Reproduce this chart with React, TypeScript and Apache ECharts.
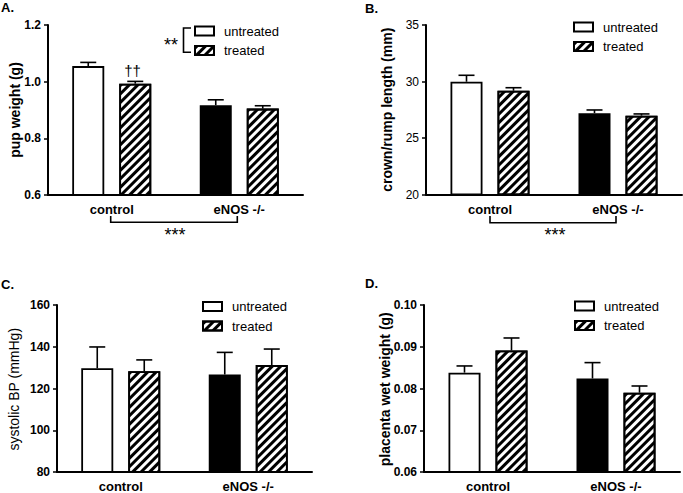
import React, { useEffect, useRef } from "react";
import * as echarts from "echarts";

// ---------- data ----------
const groups = ["control", "eNOS -/-"];
const seriesNames = ["untreated", "treated"];

// A. pup weight (g)
const pupUntreated = [1.055, 0.917];
const pupUntreatedErr = [0.013, 0.019];
const pupTreated = [0.993, 0.905];
const pupTreatedErr = [0.008, 0.01];
const pupTicks = { min: 0.6, max: 1.2, interval: 0.2 };

// B. crown/rump length (mm)
const crlUntreated = [29.98, 27.2];
const crlUntreatedErr = [0.57, 0.28];
const crlTreated = [29.18, 26.98];
const crlTreatedErr = [0.27, 0.15];
const crlTicks = { min: 20, max: 35, interval: 5 };

// C. systolic BP (mmHg)
const bpUntreated = [129.7, 126.7];
const bpUntreatedErr = [10.2, 10.6];
const bpTreated = [128.3, 131.2];
const bpTreatedErr = [5.4, 7.7];
const bpTicks = { min: 80, max: 160, interval: 20 };

// D. placenta wet weight (g)
const plUntreated = [0.0838, 0.0824];
const plUntreatedErr = [0.0016, 0.0038];
const plTreated = [0.0891, 0.079];
const plTreatedErr = [0.003, 0.0016];
const plTicks = { min: 0.06, max: 0.1, interval: 0.01 };

const FONT = "Liberation Sans, Arial, Helvetica, sans-serif";

type Panel = {
  letter: string;
  title: string;
  titleBold: boolean;
  untreated: number[];
  untreatedErr: number[];
  treated: number[];
  treatedErr: number[];
  ticks: { min: number; max: number; interval: number };
  decimals: number;
  labelBold: boolean;
  grid: { left: number; top: number; width: number; height: number };
  titleX: number;
  letterPos: [number, number];
  legendPos: [number, number];
};

const panels: Panel[] = [
  {
    letter: "A.", title: "pup weight (g)", titleBold: true,
    untreated: pupUntreated, untreatedErr: pupUntreatedErr,
    treated: pupTreated, treatedErr: pupTreatedErr,
    ticks: pupTicks, decimals: 1, labelBold: true,
    grid: { left: 48, top: 25, width: 255, height: 170 },
    titleX: 15, letterPos: [1, 8], legendPos: [194, 24.5],
  },
  {
    letter: "B.", title: "crown/rump length (mm)", titleBold: true,
    untreated: crlUntreated, untreatedErr: crlUntreatedErr,
    treated: crlTreated, treatedErr: crlTreatedErr,
    ticks: crlTicks, decimals: 0, labelBold: false,
    grid: { left: 426, top: 25, width: 256, height: 169.5 },
    titleX: 387, letterPos: [365, 9], legendPos: [573, 20.5],
  },
  {
    letter: "C.", title: "systolic BP (mmHg)", titleBold: false,
    untreated: bpUntreated, untreatedErr: bpUntreatedErr,
    treated: bpTreated, treatedErr: bpTreatedErr,
    ticks: bpTicks, decimals: 0, labelBold: true,
    grid: { left: 57, top: 305, width: 255, height: 168.5 },
    titleX: 13.5, letterPos: [1, 284.5], legendPos: [202, 300],
  },
  {
    letter: "D.", title: "placenta wet weight (g)", titleBold: true,
    untreated: plUntreated, untreatedErr: plUntreatedErr,
    treated: plTreated, treatedErr: plTreatedErr,
    ticks: plTicks, decimals: 2, labelBold: true,
    grid: { left: 424, top: 305, width: 256, height: 168.5 },
    titleX: 385, letterPos: [365, 283.5], legendPos: [574, 299.5],
  },
];

const hatch = {
  symbol: "rect",
  symbolSize: 1,
  color: "#000",
  dashArrayX: [1, 0],
  dashArrayY: [2.2, 3.0],
  rotation: -Math.PI / 4,
};

const BAR_W = 32;
const BAR_GAP = 15;
const OFFSET = (BAR_W + BAR_GAP) / 2;

function errRender(offset: number) {
  return (params: any, api: any) => {
    const cat = api.value(0);
    const val = api.value(1);
    const err = api.value(2);
    const p0 = api.coord([cat, val]);
    const p1 = api.coord([cat, val + err]);
    const x = p0[0] + offset;
    const st = { stroke: "#000", lineWidth: 1.6 };
    return {
      type: "group",
      children: [
        { type: "line", shape: { x1: x, y1: p0[1], x2: x, y2: p1[1] }, style: st },
        { type: "line", shape: { x1: x - 8, y1: p1[1], x2: x + 8, y2: p1[1] }, style: st },
      ],
    };
  };
}

function buildOption() {
  const grid: any[] = [];
  const xAxis: any[] = [];
  const yAxis: any[] = [];
  const series: any[] = [];
  const legend: any[] = [];
  const graphic: any[] = [];

  panels.forEach((p, i) => {
    grid.push({ ...p.grid, containLabel: false });
    xAxis.push({
      type: "category",
      gridIndex: i,
      data: groups,
      axisLine: { lineStyle: { color: "#000", width: 2 } },
      axisTick: { show: false },
      axisLabel: { color: "#000", fontSize: 13, fontWeight: "bold", fontFamily: FONT, margin: 8 },
      splitLine: { show: false },
    });
    yAxis.push({
      type: "value",
      gridIndex: i,
      min: p.ticks.min,
      max: p.ticks.max,
      interval: p.ticks.interval,
      axisLine: { show: true, lineStyle: { color: "#000", width: 2 } },
      axisTick: { show: true, length: 4, lineStyle: { color: "#000", width: 1.5 } },
      axisLabel: {
        color: "#000",
        fontSize: 12,
        fontWeight: p.labelBold ? "bold" : "normal",
        fontFamily: FONT,
        margin: 7,
        formatter: (v: number) => v.toFixed(p.decimals),
      },
      splitLine: { show: false },
    });
    const untreatedColors = ["#fff", "#000"];
    series.push({
      type: "bar",
      name: seriesNames[0],
      xAxisIndex: i,
      yAxisIndex: i,
      barWidth: BAR_W,
      barGap: (BAR_GAP / BAR_W) * 100 + "%",
      itemStyle: { color: "#fff", borderColor: "#000", borderWidth: 1.8 },
      data: p.untreated.map((v, k) => ({ value: v, itemStyle: { color: untreatedColors[k] } })),
      z: 2,
    });
    series.push({
      type: "bar",
      name: seriesNames[1],
      xAxisIndex: i,
      yAxisIndex: i,
      barWidth: BAR_W,
      barGap: (BAR_GAP / BAR_W) * 100 + "%",
      itemStyle: { color: "#fff", borderColor: "#000", borderWidth: 1.8, decal: hatch },
      data: p.treated,
      z: 2,
    });
    series.push({
      type: "custom",
      name: "err-u-" + i,
      xAxisIndex: i,
      yAxisIndex: i,
      renderItem: errRender(-OFFSET),
      data: p.untreated.map((v, k) => [k, v, p.untreatedErr[k]]),
      encode: { x: 0, y: 1 },
      z: 3,
    });
    series.push({
      type: "custom",
      name: "err-t-" + i,
      xAxisIndex: i,
      yAxisIndex: i,
      renderItem: errRender(OFFSET),
      data: p.treated.map((v, k) => [k, v, p.treatedErr[k]]),
      encode: { x: 0, y: 1 },
      z: 3,
    });
    legend.push({
      data: seriesNames,
      orient: "vertical",
      left: p.legendPos[0],
      top: p.legendPos[1],
      padding: 0,
      itemWidth: 19,
      itemHeight: 9,
      itemGap: 6.5,
      icon: "rect",
      selectedMode: false,
      textStyle: { color: "#000", fontSize: 13, fontFamily: FONT, lineHeight: 13, padding: [0, 0, 0, 5] },
    });
    graphic.push({
      type: "text",
      left: p.letterPos[0],
      top: p.letterPos[1] - 7,
      style: { text: p.letter, font: `bold 13px ${FONT}`, fill: "#000" },
    });
    graphic.push({
      type: "text",
      x: p.titleX,
      y: p.grid.top + p.grid.height / 2,
      rotation: Math.PI / 2,
      style: {
        text: p.title,
        font: `${p.titleBold ? "bold " : ""}14px ${FONT}`,
        fill: "#000",
        align: "center",
        verticalAlign: "middle",
      },
    });
  });

  // significance annotations
  const ln = { stroke: "#000", lineWidth: 1.6, fill: null };
  graphic.push(
    { type: "polyline", shape: { points: [[191, 28], [183.5, 28], [183.5, 52.3], [191, 52.3]] }, style: ln },
    { type: "text", x: 171, y: 45, style: { text: "**", font: `18px ${FONT}`, fill: "#000", align: "center", verticalAlign: "middle" } },
    { type: "text", x: 132.5, y: 70, style: { text: "††", font: `15px ${FONT}`, fill: "#000", align: "center", verticalAlign: "middle" } },
    { type: "polyline", shape: { points: [[110.7, 216], [110.7, 222.3], [237.3, 222.3], [237.3, 216]] }, style: ln },
    { type: "text", x: 175, y: 235, style: { text: "***", font: `18px ${FONT}`, fill: "#000", align: "center", verticalAlign: "middle" } },
    { type: "polyline", shape: { points: [[490, 216], [490, 222.7], [616, 222.7], [616, 216]] }, style: ln },
    { type: "text", x: 555, y: 235, style: { text: "***", font: `18px ${FONT}`, fill: "#000", align: "center", verticalAlign: "middle" } }
  );

  return {
    animation: false,
    backgroundColor: "#fff",
    textStyle: { fontFamily: FONT },
    grid,
    xAxis,
    yAxis,
    series,
    legend,
    graphic,
  };
}

export default function App() {
  const ref = useRef<HTMLDivElement>(null);
  useEffect(() => {
    if (!ref.current) return;
    const chart = echarts.init(ref.current, null, { renderer: "svg" });
    chart.setOption(buildOption() as any);
    return () => chart.dispose();
  }, []);
  return (
    <div
      ref={ref}
      style={{ position: "absolute", left: 0, top: 0, width: 683, height: 493, background: "#fff" }}
    />
  );
}
